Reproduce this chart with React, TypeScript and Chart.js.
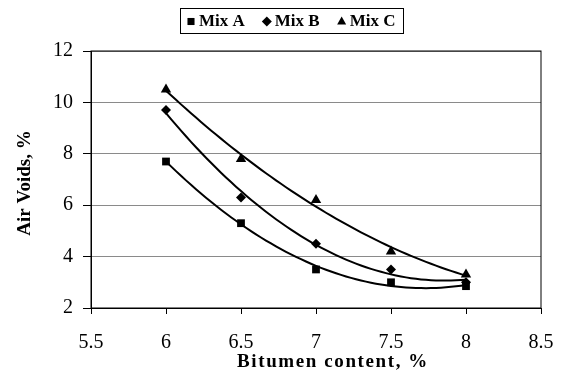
import React, { useEffect, useRef } from 'react';
import { Chart, registerables } from 'chart.js';

Chart.register(...registerables);

const bitumenContent = [6, 6.5, 7, 7.5, 8];
const mixA = [7.7, 5.3, 3.5, 3.0, 2.85];
const mixB = [9.7, 6.3, 4.5, 3.5, 3.0];
const mixC = [10.5, 7.8, 6.2, 4.2, 3.3];
const seriesNames = ['Mix A', 'Mix B', 'Mix C'];
const xTitle = 'Bitumen content, %';
const yTitle = 'Air Voids, %';
const xMin = 5.5, xMax = 8.5, xStep = 0.5;
const yMin = 2, yMax = 12, yStep = 2;

const SERIF = '"Liberation Serif", "Times New Roman", serif';

// least-squares 2nd order polynomial trendline from the data
function quadFit(xs: number[], ys: number[]) {
  const n = xs.length;
  const m = xs.reduce((s, v) => s + v, 0) / n;
  let s0 = n, s1 = 0, s2 = 0, s3 = 0, s4 = 0, t0 = 0, t1 = 0, t2 = 0;
  for (let i = 0; i < n; i++) {
    const t = xs[i] - m;
    s1 += t; s2 += t * t; s3 += t * t * t; s4 += t * t * t * t;
    t0 += ys[i]; t1 += t * ys[i]; t2 += t * t * ys[i];
  }
  const A = [
    [s0, s1, s2, t0],
    [s1, s2, s3, t1],
    [s2, s3, s4, t2],
  ];
  for (let c = 0; c < 3; c++) {
    for (let r = c + 1; r < 3; r++) {
      const f = A[r][c] / A[c][c];
      for (let k = c; k < 4; k++) A[r][k] -= f * A[c][k];
    }
  }
  const sol = [0, 0, 0];
  for (let r = 2; r >= 0; r--) {
    let v = A[r][3];
    for (let k = r + 1; k < 3; k++) v -= A[r][k] * sol[k];
    sol[r] = v / A[r][r];
  }
  return (x: number) => sol[0] + sol[1] * (x - m) + sol[2] * (x - m) * (x - m);
}

function trendPoints(xs: number[], ys: number[]) {
  const f = quadFit(xs, ys);
  const pts: { x: number; y: number }[] = [];
  const x0 = xs[0], x1 = xs[xs.length - 1];
  const N = 60;
  for (let i = 0; i <= N; i++) {
    const x = x0 + ((x1 - x0) * i) / N;
    pts.push({ x, y: f(x) });
  }
  return pts;
}

const seriesValues = [mixA, mixB, mixC];
const pointStyles = ['rect', 'rectRot', 'triangle'];
const pointRadii = [5.5, 5, 6];

function drawMarker(ctx: CanvasRenderingContext2D, style: string, x: number, y: number, r: number) {
  ctx.beginPath();
  if (style === 'rect') {
    const s = r * Math.SQRT1_2;
    ctx.rect(x - s, y - s, 2 * s, 2 * s);
  } else if (style === 'rectRot') {
    ctx.moveTo(x, y - r);
    ctx.lineTo(x + r, y);
    ctx.lineTo(x, y + r);
    ctx.lineTo(x - r, y);
    ctx.closePath();
  } else {
    ctx.moveTo(x, y - r);
    ctx.lineTo(x + r * 0.9, y + r * 0.6);
    ctx.lineTo(x - r * 0.9, y + r * 0.6);
    ctx.closePath();
  }
  ctx.fill();
}

const decorPlugin = {
  id: 'decor',
  afterDraw(chart: any) {
    const { ctx, chartArea } = chart;
    ctx.save();
    // plot border
    ctx.strokeStyle = '#000';
    ctx.lineWidth = 1;
    ctx.strokeRect(chartArea.left, chartArea.top, chartArea.right - chartArea.left, chartArea.bottom - chartArea.top);

    // legend
    const boxL = 180, boxT = 8, boxR = 403, boxB = 33;
    ctx.fillStyle = '#fff';
    ctx.fillRect(boxL, boxT, boxR - boxL, boxB - boxT);
    ctx.strokeRect(boxL + 0.5, boxT + 0.5, boxR - boxL, boxB - boxT);
    ctx.font = `bold 17px ${SERIF}`;
    ctx.textBaseline = 'middle';
    ctx.textAlign = 'left';
    ctx.fillStyle = '#000';
    const cy = (boxT + boxB) / 2 + 1;
    let x = boxL + 11;
    seriesNames.forEach((name, i) => {
      drawMarker(ctx, pointStyles[i], x, cy, 5);
      ctx.fillText(name, x + 8, cy);
      x += 8 + ctx.measureText(name).width + 22;
    });

    // axis titles
    ctx.font = `bold 19px ${SERIF}`;
    ctx.textAlign = 'center';
    ctx.textBaseline = 'middle';
    try { (ctx as any).letterSpacing = '1.6px'; } catch (e) {}
    ctx.fillText(xTitle, 333, 362);
    try { (ctx as any).letterSpacing = '0px'; } catch (e) {}
    ctx.translate(25, 183);
    ctx.rotate(-Math.PI / 2);
    ctx.fillText(yTitle, 0, 0);
    ctx.restore();
  },
};

export default function App() {
  const ref = useRef<HTMLCanvasElement | null>(null);
  useEffect(() => {
    document.body.style.margin = '0';
    if (!ref.current) return;
    const datasets: any[] = [];
    seriesValues.forEach((vals, i) => {
      datasets.push({
        label: seriesNames[i],
        data: bitumenContent.map((x, j) => ({ x, y: vals[j] })),
        showLine: false,
        pointStyle: pointStyles[i],
        pointRadius: pointRadii[i],
        backgroundColor: '#000',
        borderColor: '#000',
        borderWidth: 0,
        order: 1,
      });
      datasets.push({
        label: seriesNames[i] + ' trend',
        data: trendPoints(bitumenContent, vals),
        showLine: true,
        pointRadius: 0,
        borderColor: '#000',
        borderWidth: 2,
        tension: 0,
        order: 2,
      });
    });
    const chart = new Chart(ref.current, {
      type: 'scatter',
      data: { datasets },
      options: {
        animation: false,
        responsive: false,
        maintainAspectRatio: false,
        layout: { padding: { top: 51, right: 21, left: 0, bottom: 0 } },
        plugins: { legend: { display: false }, tooltip: { enabled: false } },
        scales: {
          x: {
            type: 'linear',
            min: xMin,
            max: xMax,
            afterFit: (s: any) => {
              s.height = 66;
              s.paddingLeft = 0;
              s.paddingRight = 0;
            },
            ticks: {
              stepSize: xStep,
              color: '#000',
              font: { family: SERIF, size: 20 },
              padding: 17,
              callback: (v: any) => String(v),
            },
            grid: { drawOnChartArea: false, tickLength: 6, tickColor: '#000' },
            border: { color: '#000', width: 1 },
          },
          y: {
            min: yMin,
            max: yMax,
            afterFit: (s: any) => {
              s.width = 91;
              s.paddingTop = 0;
              s.paddingBottom = 0;
            },
            ticks: {
              stepSize: yStep,
              color: '#000',
              font: { family: SERIF, size: 20 },
              padding: 10,
              callback: (v: any) => String(v),
            },
            grid: { color: '#8a8a8a', lineWidth: 1, tickLength: 8, tickColor: '#000' },
            border: { color: '#000', width: 1 },
          },
        },
      },
      plugins: [decorPlugin],
    });
    return () => chart.destroy();
  }, []);
  return (
    <div style={{ width: 562, height: 374 }}>
      <canvas ref={ref} width={562} height={374} style={{ display: 'block' }} />
    </div>
  );
}
